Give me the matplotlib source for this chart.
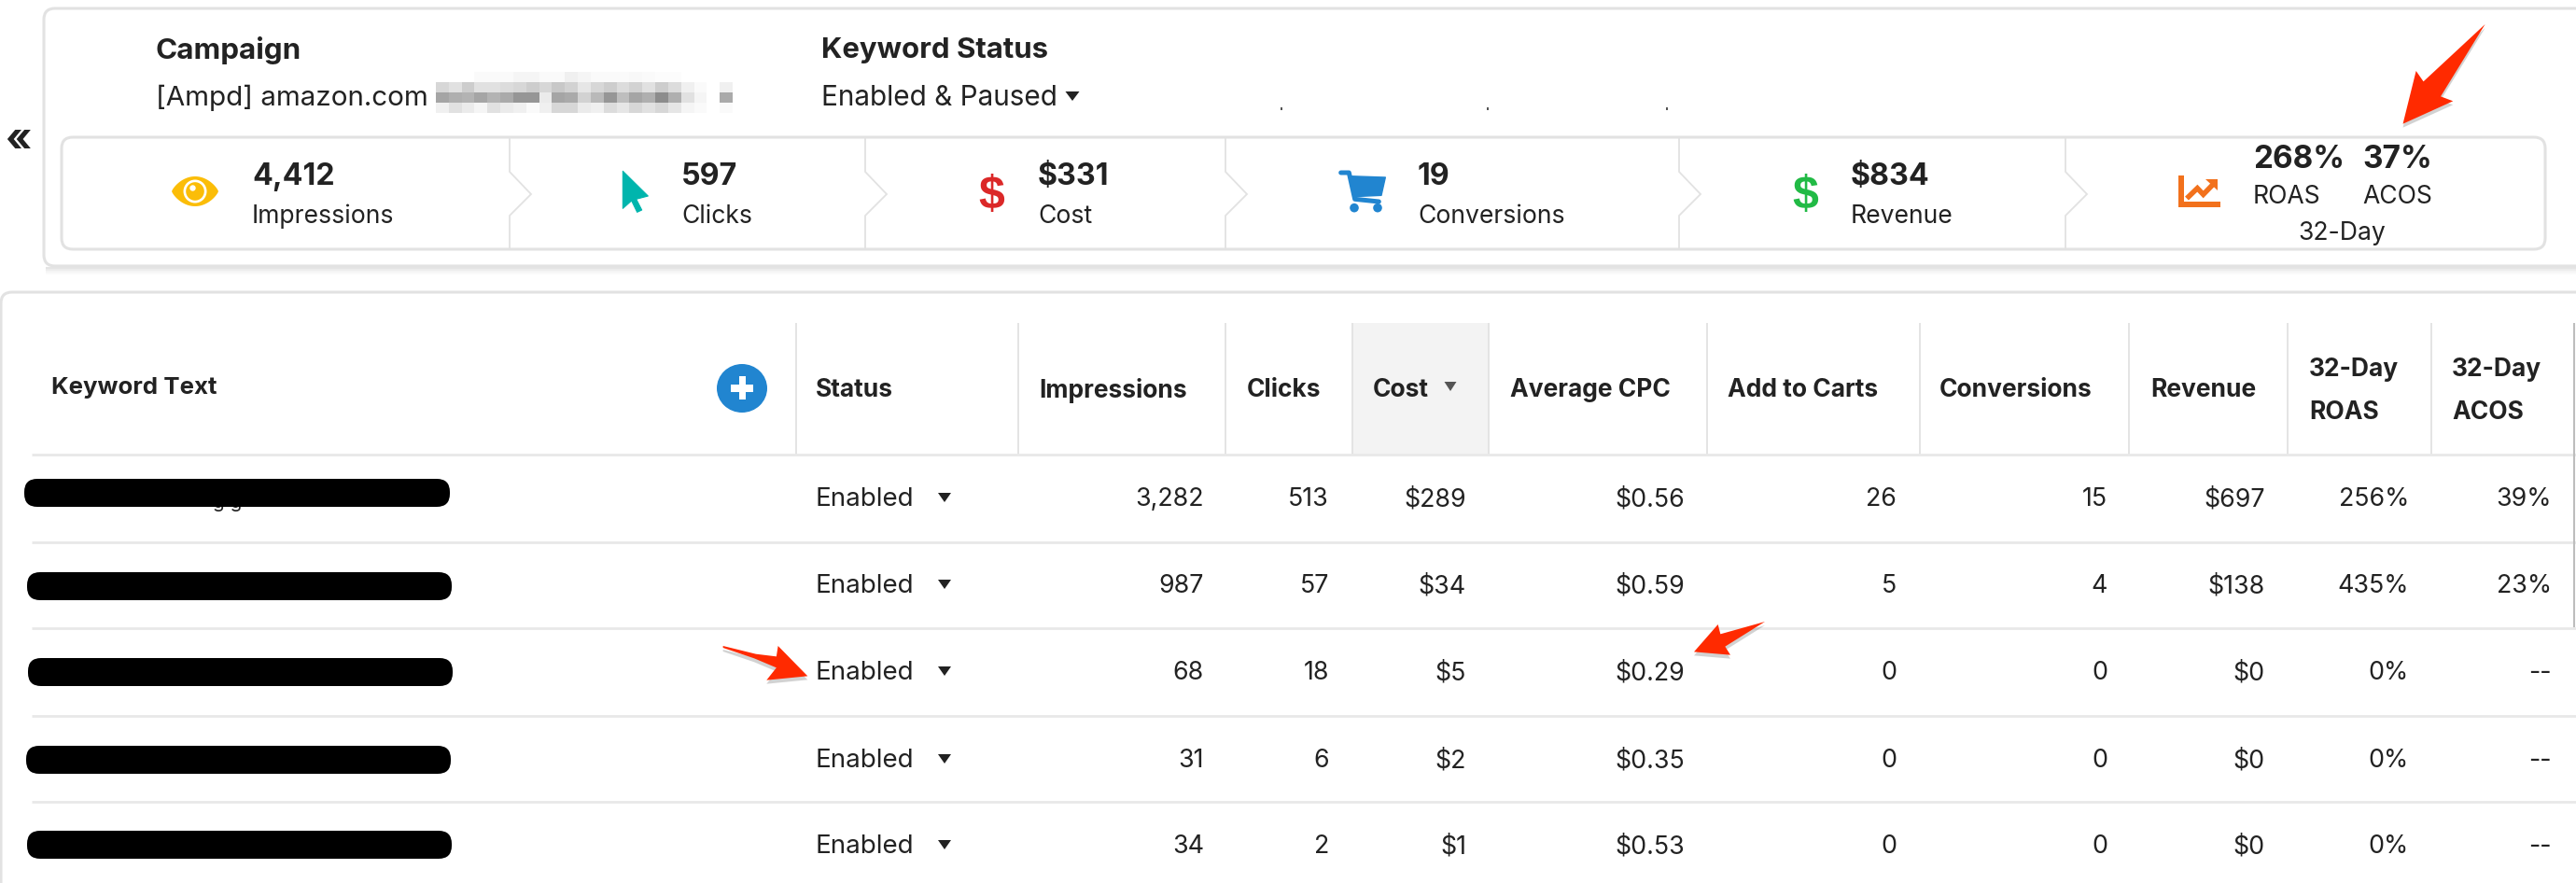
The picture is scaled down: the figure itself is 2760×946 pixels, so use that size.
import matplotlib
matplotlib.use("Agg")
import matplotlib.pyplot as plt
from matplotlib.patches import FancyBboxPatch, Polygon, Circle, Ellipse, Rectangle
import numpy as np

# ---------- content ----------
summary_labels = ["Impressions", "Clicks", "Cost", "Conversions", "Revenue"]
summary_values = ["4,412", "597", "$331", "19", "$834"]
roas_total = "268%"
acos_total = "37%"

headers = ["Status", "Impressions", "Clicks", "Cost", "Average CPC", "Add to Carts",
           "Conversions", "Revenue"]
status = ["Enabled", "Enabled", "Enabled", "Enabled", "Enabled"]
impressions = ["3,282", "987", "68", "31", "34"]
clicks = ["513", "57", "18", "6", "2"]
cost = ["$289", "$34", "$5", "$2", "$1"]
avg_cpc = ["$0.56", "$0.59", "$0.29", "$0.35", "$0.53"]
add_to_carts = ["26", "5", "0", "0", "0"]
conversions = ["15", "4", "0", "0", "0"]
revenue = ["$697", "$138", "$0", "$0", "$0"]
roas = ["256%", "435%", "0%", "0%", "0%"]
acos = ["39%", "23%", "--", "--", "--"]

# ---------- layout (pixels) ----------
W, H = 2760, 946
INK = "#222222"
LINE = "#e2e2e2"
plt.rcParams["font.family"] = ["Inter", "DejaVu Sans"]

fig = plt.figure(figsize=(W / 100, H / 100), dpi=100, facecolor="white")
ax = fig.add_axes([0, 0, 1, 1])
ax.set_axis_off()


def txt(x, y, s, size=18.0, weight="normal", ha="left", color=INK, z=5, family=None):
    kw = {"family": family} if family else {}
    return ax.text(x, y, s, fontsize=size, fontweight=weight, ha=ha, va="center_baseline",
                   color=color, zorder=z, **kw)


def card(x0, y0, x1, y1, lw=2.2, ec=LINE, r=12, z=1):
    ax.add_patch(FancyBboxPatch((x0, y0), x1 - x0, y1 - y0,
                                boxstyle=f"round,pad=0,rounding_size={r}",
                                fc="white", ec=ec, lw=lw, zorder=z))


def arrow(points, z=8):
    pts = np.array(points, float)
    ax.add_patch(Polygon(pts + [0, 4], closed=True, fc="#808080", ec="none", alpha=0.35, zorder=z))
    ax.add_patch(Polygon(pts, closed=True, fc="#ff2a00", ec="none", zorder=z + 0.1))


def tri(x, y, w=14, h=10, color="#222222"):
    ax.add_patch(Polygon([(x - w / 2, y - h / 2), (x + w / 2, y - h / 2), (x, y + h / 2)],
                         closed=True, fc=color, ec="none", zorder=6))


# ---------- top card ----------
for i, a in enumerate([0.10, 0.07, 0.04, 0.02]):
    ax.plot([50, W + 5], [287 + i * 2] * 2, color="black", alpha=a, lw=1.5, zorder=0.5)
card(47, 9, W + 30, 285)
txt(19, 146, "«", size=31, weight="bold", ha="center")

txt(167, 51, "Campaign", size=22.6, weight="bold")
txt(880, 51, "Keyword Status", size=22.4, weight="bold")
txt(167, 102, "[Ampd] amazon.com", size=21.3)
txt(880, 102, "Enabled & Paused", size=21.4)
tri(1149, 103, w=15, h=10)

blur = np.array([
    [255, 255, 255, 250, 250, 250, 245, 245, 250, 250, 240, 245, 250, 250, 250, 248, 250, 252, 252, 255, 255, 255, 255],
    [215, 225, 205, 225, 225, 220, 215, 205, 215, 200, 210, 230, 215, 205, 220, 210, 225, 205, 220, 240, 250, 255, 240],
    [165, 175, 180, 165, 180, 170, 150, 150, 235, 165, 170, 210, 185, 150, 190, 165, 175, 140, 175, 225, 245, 255, 170],
    [240, 225, 235, 245, 225, 235, 240, 250, 240, 215, 215, 235, 240, 220, 230, 215, 225, 215, 230, 245, 250, 255, 250],
], float)
ax.imshow(blur, cmap="gray", vmin=0, vmax=255, extent=(467, 785, 121, 77), aspect="auto",
          interpolation="nearest", zorder=2)

for mx in [1372, 1593, 1785]:
    ax.add_patch(Rectangle((mx, 115), 1.5, 3, fc="#555555", ec="none", zorder=3))

# stats bar
card(66, 147, 2727, 267, lw=2.2, r=12, z=2)
divs = [546, 927, 1313, 1799, 2213]
for d in divs:
    ax.plot([d, d, d + 23, d, d], [148, 184, 208, 231, 266], color=LINE, lw=1.3, zorder=3,
            solid_joinstyle="miter")

sum_x = [270, 730, 1112, 1519, 1983]
for x, v, l in zip(sum_x, summary_values, summary_labels):
    txt(x, 186, v, size=23.2, weight="bold")
    txt(x, 229, l, size=19.1)

txt(2414, 168, roas_total, size=24, weight="bold")
txt(2531, 168, acos_total, size=24, weight="bold")
txt(2414, 208, "ROAS", size=19.1)
txt(2531, 208, "ACOS", size=19.1)
txt(2509, 247, "32-Day", size=19.1, ha="center")

# eye icon
YEL = "#fbbd08"
ex, ey = 209, 205
t = np.linspace(-1, 1, 60)
ax.add_patch(Polygon(np.r_[np.c_[ex + 25 * t, ey - 16 * (1 - t ** 2) ** 0.8],
                           np.c_[ex + 25 * t[::-1], ey + 16 * (1 - t[::-1] ** 2) ** 0.8]],
                     closed=True, fc=YEL, ec="none", zorder=6))
ax.add_patch(Circle((ex, ey), 12.5, fc="white", ec="none", zorder=7))
ax.add_patch(Circle((ex, ey), 9.8, fc=YEL, ec="none", zorder=8))
ax.add_patch(Circle((ex - 2.5, ey - 3.5), 3.2, fc="white", ec="none", zorder=9))

# cursor icon
cur = np.array([(52, 40), (133, 120), (95, 130), (113, 165), (98, 172), (80, 135), (52, 160)]) / 3 + [650, 170]
ax.add_patch(Polygon(cur, closed=True, fc="#00b5ad", ec="#00b5ad", lw=0.8, joinstyle="round", zorder=6))

# dollar icons
txt(1062, 205, "$", size=36, weight="bold", ha="center", color="#db2828", family="Liberation Sans")
txt(1934, 205, "$", size=36, weight="bold", ha="center", color="#21ba45", family="Liberation Sans")

# cart icon
BL = "#2185d0"
o = np.array([1420, 170])
ax.plot(*(np.array([(50, 45), (76, 45), (95, 130), (172, 138)]) / 3 + o).T, color=BL, lw=3.6,
        solid_capstyle="round", solid_joinstyle="round", zorder=6)
ax.add_patch(Polygon(np.array([(78, 56), (193, 60), (180, 118), (90, 122)]) / 3 + o, closed=True,
                     fc=BL, ec=BL, lw=1, joinstyle="round", zorder=6))
for cx in (93, 168):
    ax.add_patch(Circle((o[0] + cx / 3, o[1] + 158 / 3), 4.8, fc=BL, ec="none", zorder=6))

# chart icon
OR = "#f2711c"
o = np.array([2320, 170])
ax.add_patch(Polygon(np.array([(43, 55), (60, 55), (60, 138), (177, 138), (177, 155), (43, 155)]) / 3 + o,
                     closed=True, fc=OR, ec="none", zorder=6))
ax.plot(*(np.array([(75, 122), (103, 95), (122, 115), (152, 84)]) / 3 + o).T, color=OR, lw=4,
        solid_joinstyle="miter", zorder=6)
ax.add_patch(Polygon(np.array([(128, 65), (168, 65), (168, 103)]) / 3 + o, closed=True, fc=OR, ec="none", zorder=6))

# ---------- table card ----------
card(1, 313, W + 30, H + 40, lw=2.2)

ax.add_patch(Rectangle((1449, 346), 146, 141, fc="#f3f3f3", ec="none", zorder=2))
v_lines = [853, 1091, 1313, 1449, 1595, 1829, 2057, 2281, 2451, 2605]
ax.vlines(v_lines, 346, 487, color=LINE, lw=1.3, zorder=3)
row_lines = [487, 581, 673, 767, 859]
ax.hlines(row_lines, 34, W, color="#e8e8e8", lw=2, zorder=3)
ax.vlines([2758], 346, 672, color="#bdbdbd", lw=1.5, zorder=3)

HS = 19.0
txt(55, 413, "Keyword Text", size=18.6, weight="bold")
head_x = [874, 1113, 1336, 1471, 1618, 1851, 2078, 2304]
for x, h in zip(head_x, headers):
    txt(x, 415, h, size=HS, weight="bold")
tri(1554, 414, w=13, h=10, color="#555555")
txt(2474, 393, "32-Day", size=HS, weight="bold")
txt(2474, 439, "ROAS", size=HS, weight="bold")
txt(2627, 393, "32-Day", size=HS, weight="bold")
txt(2627, 439, "ACOS", size=HS, weight="bold")

ax.add_patch(Ellipse((795, 416), 54, 52, fc=BL, ec="none", zorder=5))
ax.add_patch(Rectangle((783, 412), 24, 7.5, fc="white", ec="none", zorder=6))
ax.add_patch(Rectangle((791.5, 403), 7.5, 25, fc="white", ec="none", zorder=6))

# rows
row_y = [532, 625, 718, 812, 904]
bars = [(26, 482, 513), (29, 484, 613), (30, 485, 705), (28, 483, 799), (29, 484, 890)]
for x0, x1, y0 in bars:
    ax.add_patch(FancyBboxPatch((x0, y0), x1 - x0, 30, boxstyle="round,pad=0,rounding_size=14",
                                fc="black", ec="none", zorder=6))
txt(244, 536, "g g", size=15, ha="center", z=5)

columns = [impressions, clicks, cost, avg_cpc, add_to_carts, conversions, revenue, roas, acos]
right_x = [1290, 1424, 1571, 1805, 2032, 2258, 2427, 2581, 2734]
for i, y in enumerate(row_y):
    txt(874, y, status[i], size=20)
    tri(1012, y + 1, w=14, h=10)
    for col, x in zip(columns, right_x):
        txt(x, y, col[i], size=19.3, ha="right")

# ---------- red arrows ----------
arrow([(x / 1.136 + 1380, y / 3) for x, y in
       [(1457, 78), (1403, 310), (1418, 325), (1357, 398), (1373, 228), (1382, 262)]])
arrow([(x / 1.136, y / 3 + 626) for x, y in
       [(880, 198), (920, 224), (945, 232), (947, 198), (983, 295), (933, 308), (945, 268), (918, 238), (880, 204)]])
arrow(np.array([(333, 48), (190, 88), (182, 57), (105, 145), (222, 155), (205, 128)]) / 3 + [1780, 650])

ax.set_xlim(0, W)
ax.set_ylim(H, 0)
fig.savefig("out.png", dpi=100, facecolor="white")
